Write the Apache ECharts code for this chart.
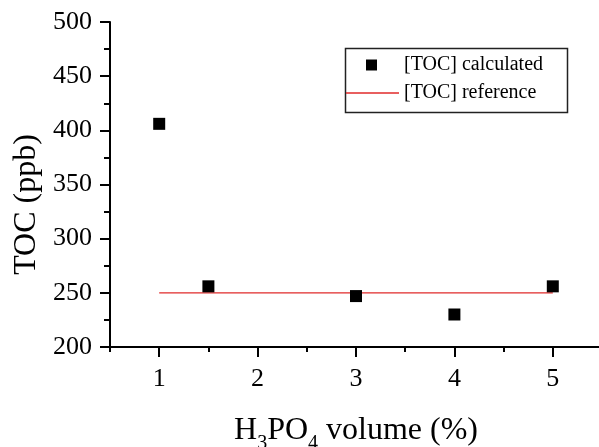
<!DOCTYPE html>
<html>
<head>
<meta charset="utf-8">
<script src="https://cdn.jsdelivr.net/npm/echarts@6/dist/echarts.min.js"></script>
<style>
  html, body { margin: 0; padding: 0; background: #fff; }
  #chart { width: 599px; height: 447px; }
</style>
</head>
<body>
<div id="chart"></div>
<script>
// H3PO4 volume (%) and measured TOC (ppb)
var volume = [1, 1.5, 3, 4, 5];
var tocCalculated = [406, 256, 247, 230, 256];
// reference level, drawn from first to last volume
var refVolume = [1, 5];
var refToc = [250, 250];
var xMajorTicks = [1, 2, 3, 4, 5];
var xMinorTicks = [0.5, 1.5, 2.5, 3.5, 4.5, 5.5];

var serif = 'Liberation Serif';
var refColor = '#e02a2a';
var chart = echarts.init(document.getElementById('chart'));

var calcData = volume.map(function (v, i) { return [v, tocCalculated[i]]; });
var refData = refVolume.map(function (v, i) { return [v, refToc[i]]; });

var option = {
    animation: false,
    backgroundColor: '#fff',
    textStyle: { fontFamily: serif, color: '#000' },
    grid: { left: 110, top: 22, width: 492, height: 325, outerBoundsMode: 'none', containLabel: false },
    legend: [
        {
            data: ['[TOC] calculated'],
            left: 366, top: 55, padding: 0,
            icon: 'rect', itemWidth: 11, itemHeight: 11,
            itemStyle: { color: '#000', opacity: 1 },
            textStyle: { fontFamily: serif, fontSize: 20, color: '#000', padding: [0, 0, 0, 22] }
        },
        {
            data: [{ name: '[TOC] reference', icon: 'rect' }],
            left: 346, top: 83, padding: 0,
            itemWidth: 53, itemHeight: 1.5,
            itemStyle: { color: refColor },
            textStyle: { fontFamily: serif, fontSize: 20, color: '#000' }
        }
    ],
    graphic: [{
        type: 'rect', left: 343, top: 46, z: 0,
        shape: { width: 222, height: 64 },
        style: { fill: 'none', stroke: '#222', lineWidth: 1.5 }
    }],
    xAxis: [
        {
            type: 'value', min: 0.5, max: 5.5,
            name: 'H{sub|3}PO{sub|4} volume (%)',
            nameLocation: 'middle', nameGap: 60,
            nameTextStyle: {
                fontFamily: serif, fontSize: 32, color: '#000',
                rich: { sub: { fontFamily: serif, fontSize: 20, color: '#000', verticalAlign: 'top', padding: [27, 0, 0, 0] } }
            },
            splitLine: { show: false },
            axisLine: { lineStyle: { color: '#000', width: 2 } },
            axisTick: { customValues: xMajorTicks, length: 10, lineStyle: { color: '#000', width: 2 } },
            axisLabel: { customValues: xMajorTicks, margin: 19, fontFamily: serif, fontSize: 26, color: '#000' }
        },
        {
            type: 'value', min: 0.5, max: 5.5, gridIndex: 0, position: 'bottom',
            splitLine: { show: false },
            axisLine: { show: false },
            axisTick: { customValues: xMinorTicks, length: 5, lineStyle: { color: '#000', width: 2 } },
            axisLabel: { show: false }
        }
    ],
    yAxis: {
        type: 'value', min: 200, max: 500, interval: 50,
        name: 'TOC (ppb)', nameLocation: 'middle', nameGap: 64, nameRotate: 90,
        nameTextStyle: { fontFamily: serif, fontSize: 32, color: '#000', padding: [0, 40, 0, 0] },
        splitLine: { show: false },
        axisLine: { show: true, lineStyle: { color: '#000', width: 2 } },
        axisTick: { show: true, length: 10, lineStyle: { color: '#000', width: 2 } },
        minorTick: { show: true, splitNumber: 2, length: 6, lineStyle: { color: '#000', width: 2 } },
        axisLabel: { margin: 18, fontFamily: serif, fontSize: 26, color: '#000' }
    },
    series: [
        {
            name: '[TOC] calculated', type: 'scatter', data: calcData,
            symbol: 'rect', symbolSize: 12,
            itemStyle: { color: '#000', opacity: 1 }, z: 3
        },
        {
            name: '[TOC] reference', type: 'line', data: refData,
            symbol: 'none',
            lineStyle: { color: refColor, width: 1.2 },
            itemStyle: { color: refColor }, z: 2
        }
    ]
};
chart.setOption(option);
</script>
</body>
</html>
